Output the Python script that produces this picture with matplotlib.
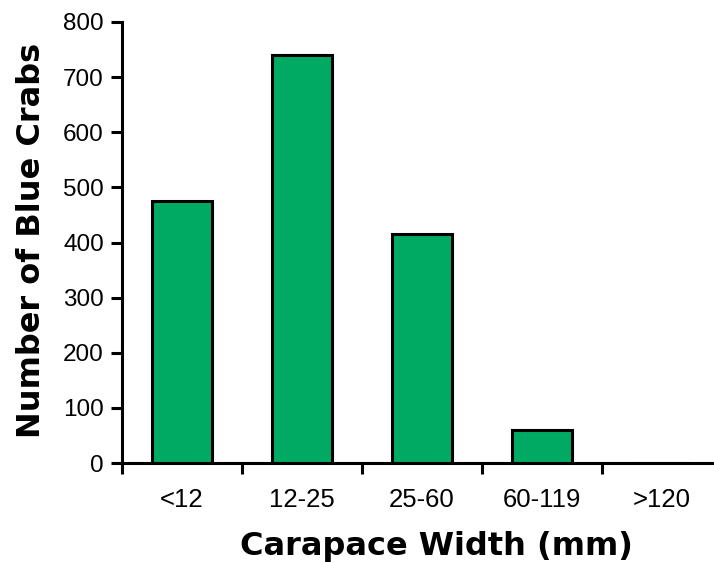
import matplotlib
matplotlib.use("Agg")
import matplotlib.pyplot as plt

categories = ["<12", "12-25", "25-60", "60-119", ">120"]
counts = [476, 741, 415, 60, 0]
y_ticks = [0, 100, 200, 300, 400, 500, 600, 700, 800]

fig = plt.figure(figsize=(7.14, 5.62), dpi=100)
ax = fig.add_axes([122/714, (562-463)/562, 600/714, 441/562])

x = list(range(len(categories)))
ax.bar(x, counts, width=0.5, color="#00AA63", edgecolor="black", linewidth=2.2, zorder=3)

ax.set_xlim(-0.5, len(categories) - 0.5)
ax.set_ylim(0, 800)
ax.set_yticks(y_ticks)
ax.set_yticklabels([str(v) for v in y_ticks], fontsize=17.5, family="Liberation Sans")

ax.set_xticks([i - 0.5 for i in range(len(categories) + 1)])
ax.set_xticklabels([])
ax.set_xticks(x, minor=True)
ax.set_xticklabels(categories, minor=True, fontsize=18.5, family="Liberation Sans")
ax.tick_params(axis="x", which="minor", length=0, pad=18)
ax.tick_params(axis="x", which="major", length=8, width=2.2, direction="out")
ax.tick_params(axis="y", length=8, width=2.2, direction="out", pad=5)

for s in ["top", "right"]:
    ax.spines[s].set_visible(False)
for s in ["left", "bottom"]:
    ax.spines[s].set_linewidth(2.2)

fig.text(436/714, 1 - 546/562, "Carapace Width (mm)", fontsize=23, fontweight="bold",
         family="DejaVu Sans", ha="center", va="center")
fig.text(32/714, 1 - 240/562, "Number of Blue Crabs", fontsize=23, fontweight="bold",
         family="DejaVu Sans", ha="center", va="center", rotation=90)

fig.savefig("out.png", dpi=100)
